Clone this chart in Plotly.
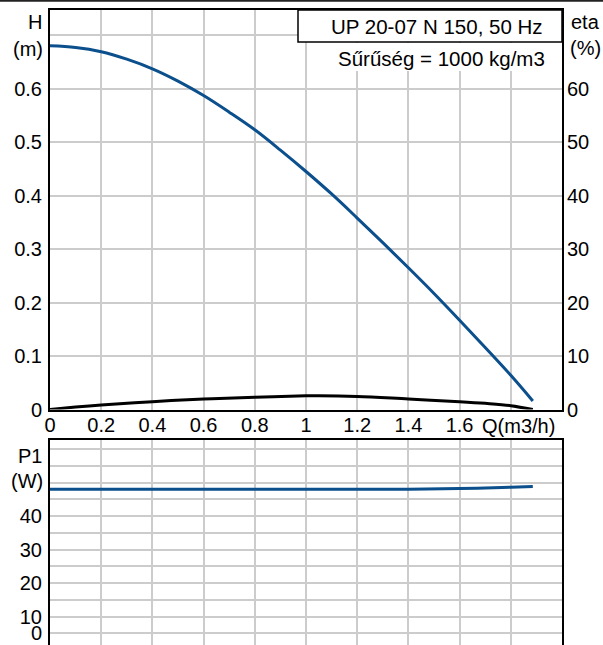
import plotly.graph_objects as go

# ---- data ----
q_h = [0.0, 0.1, 0.2, 0.3, 0.4, 0.5, 0.6, 0.7, 0.8, 0.9, 1.0, 1.1, 1.2, 1.3, 1.4, 1.5, 1.6, 1.7, 1.8, 1.886]
h_m = [0.680, 0.677, 0.669, 0.655, 0.637, 0.614, 0.587, 0.556, 0.523, 0.485, 0.445, 0.403, 0.358, 0.312, 0.265, 0.217, 0.167, 0.116, 0.064, 0.016]

q_eta = [0.0, 0.1, 0.2, 0.4, 0.6, 0.8, 1.0, 1.05, 1.2, 1.4, 1.6, 1.7, 1.8, 1.886]
eta_pct = [0.0, 0.45, 0.84, 1.46, 1.96, 2.28, 2.55, 2.58, 2.45, 1.96, 1.46, 1.15, 0.72, 0.0]

q_p = [0.0, 0.2, 0.4, 0.6, 0.8, 1.0, 1.2, 1.4, 1.6, 1.7, 1.8, 1.886]
p1_w = [48.0, 48.0, 48.0, 48.0, 48.0, 48.0, 48.0, 48.0, 48.2, 48.4, 48.6, 48.8]

x_ticks = [0, 0.2, 0.4, 0.6, 0.8, 1.0, 1.2, 1.4, 1.6, 1.8]
x_tick_text = ["0", "0.2", "0.4", "0.6", "0.8", "1", "1.2", "1.4", "1.6", ""]
h_ticks = [0, 0.1, 0.2, 0.3, 0.4, 0.5, 0.6, 0.7]
h_tick_text = ["0", "0.1", "0.2", "0.3", "0.4", "0.5", "0.6", ""]
eta_ticks = [0, 10, 20, 30, 40, 50, 60]
p_ticks = [5, 10, 15, 20, 25, 30, 35, 40, 45, 50, 55, 60]
p_tick_text = ["0", "10", "", "20", "", "30", "", "40", "", "", "", ""]

title_text = "UP 20-07 N 150, 50 Hz"
density_text = "Sűrűség = 1000 kg/m3"

# ---- layout geometry (pixels) ----
W, H = 603, 645
L, R, T, B = 50, 41, 10, 0
PW, PH = W - L - R, H - T - B


def px(xp):
    return (xp - L) / PW


def py(yp):
    return (H - yp) / PH


FONT = "Liberation Sans, Arial, sans-serif"
FS = 20
BLUE = "#0b4f8c"
GRID = "#cccccc"

fig = go.Figure()
fig.add_trace(go.Scatter(x=q_h, y=h_m, mode="lines", line=dict(color=BLUE, width=3, shape="spline"),
                         xaxis="x", yaxis="y", showlegend=False))
fig.add_trace(go.Scatter(x=q_eta, y=eta_pct, mode="lines", line=dict(color="#000000", width=3, shape="spline"),
                         xaxis="x", yaxis="y2", showlegend=False))
fig.add_trace(go.Scatter(x=q_p, y=p1_w, mode="lines", line=dict(color=BLUE, width=3, shape="spline"),
                         xaxis="x2", yaxis="y3", showlegend=False))

axis_common = dict(showline=True, linecolor="black", linewidth=2, gridcolor=GRID, gridwidth=1.5,
                   zeroline=False, ticks="", automargin=False,
                   tickfont=dict(family=FONT, size=FS, color="black"))

fig.update_layout(
    template="none",
    width=W, height=H,
    margin=dict(l=L, r=R, t=T, b=B, pad=0),
    paper_bgcolor="white", plot_bgcolor="white",
    font=dict(family=FONT, size=FS, color="black"),
    showlegend=False,
    xaxis=dict(domain=[0, 1], range=[0, 2.0], anchor="y", tickvals=x_ticks, ticktext=x_tick_text,
               mirror=True, ticklabelstandoff=-4, **axis_common),
    yaxis=dict(domain=[py(409.5), 1], range=[0, 0.747], anchor="x", tickvals=h_ticks, ticktext=h_tick_text,
               mirror=True, ticklabelstandoff=2, **axis_common),
    yaxis2=dict(overlaying="y", side="right", range=[0, 74.7], anchor="x", tickvals=eta_ticks,
                showgrid=False, showline=False, zeroline=False, ticks="", ticklabelstandoff=4,
                automargin=False, tickfont=dict(family=FONT, size=FS, color="black")),
    xaxis2=dict(domain=[0, 1], range=[0, 2.0], anchor="y3", tickvals=x_ticks, showticklabels=False,
                mirror=True, **axis_common),
    yaxis3=dict(domain=[0, py(440)], range=[1.5, 62.7], anchor="x2", tickvals=p_ticks,
                ticktext=p_tick_text, mirror=True, ticklabelstandoff=2, **axis_common),
)

shapes = []
# header box
shapes.append(dict(type="rect", xref="paper", yref="paper", x0=px(298), x1=px(562), y0=py(42), y1=py(10),
                   fillcolor="white", line=dict(color="black", width=1.5)))
# white background behind density text
shapes.append(dict(type="rect", xref="paper", yref="paper", x0=px(328), x1=px(556), y0=py(71), y1=py(43),
                   fillcolor="white", line=dict(width=0)))
# top frame line
shapes.append(dict(type="line", xref="paper", yref="paper", x0=px(0), x1=px(603), y0=py(0.8), y1=py(0.8),
                   line=dict(color="#222222", width=2)))
fig.update_layout(shapes=shapes)

ann = []


def add_text(text, x, y, xanchor, size=FS):
    ann.append(dict(text=text, xref="paper", yref="paper", x=px(x), y=py(y), xanchor=xanchor,
                    yanchor="middle", showarrow=False, font=dict(family=FONT, size=size, color="black")))


add_text("H", 44, 22, "right")
add_text("(m)", 45, 49, "right")
add_text("eta", 569, 22, "left")
add_text("(%)", 568, 48, "left")
add_text("P1", 44, 456, "right")
add_text("(W)", 45, 481, "right")
add_text("Q(m3/h)", 480, 426, "left")
add_text(title_text, 545, 26, "right", 20.5)
add_text(density_text, 547, 58, "right", 20.5)
fig.update_layout(annotations=ann)

fig.write_html("out.html", config={"displayModeBar": False},
               post_script="document.body.style.margin='0';document.body.style.padding='0';")
